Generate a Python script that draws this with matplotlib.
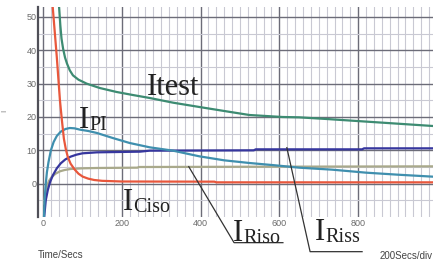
"""
Insulation-test current traces (Itest, I_PI, I_Ciso, I_Riso, I_Riss)
redrawn as a scope-style grid chart.
"""

import matplotlib
matplotlib.use("Agg")
import matplotlib.pyplot as plt
from matplotlib import font_manager
from matplotlib.ticker import FixedLocator

# --- data ----------------------------------------------------------------
itest_x = [38, 41, 44, 47, 51, 56, 61, 68, 76, 90, 111, 144, 187, 228, 271,
           330, 397, 460, 524, 608, 650, 720, 797, 900, 990]
itest_y = [58, 52.7, 47.5, 43.5, 40.5, 37.8, 36, 34, 32.5, 31.2, 30, 28.7,
           27.5, 26.6, 25.7, 24.3, 23, 21.8, 20.6, 20, 19.9, 19.4, 18.8, 18,
           17.3]

ipi_x = [2.5, 4, 7, 10, 14, 20, 27, 35, 45, 57, 68, 80, 94, 115, 137, 177,
         220, 271, 330, 397, 460, 524, 590, 650, 734, 820, 900, 990]
ipi_y = [-10, -5, 0, 3.5, 6.5, 10, 12.5, 14.3, 15.6, 16.4, 16.7, 16.6, 16.2,
         15.8, 15.2, 13.7, 12.2, 10.9, 9.9, 8.2, 7, 6.2, 5.5, 4.8, 4.2, 3.3,
         2.7, 2.1]

iriss_x = [3, 7, 12, 18, 25, 35, 45, 57, 70, 85, 100, 137, 246, 271, 535,
           540, 810, 815, 990]
iriss_y = [-10, -5, -2, 0.5, 2.5, 4.6, 6.1, 7.3, 8.1, 8.7, 9.1, 9.4, 9.6,
           9.9, 10.0, 10.3, 10.3, 10.6, 10.6]

iriso_x = [3, 6, 10, 15, 22, 32, 43, 55, 70, 100, 137, 240, 243, 990]
iriso_y = [-6, -3, -0.8, 0.8, 2, 3, 3.7, 4.1, 4.4, 4.6, 4.7, 4.8, 5.0, 5.2]

iciso_x = [20, 25, 35, 43, 48, 53, 58, 63, 70, 80, 90, 101, 115, 130, 150,
           200, 435, 440, 990]
iciso_y = [60, 52.5, 38, 25, 19, 13.5, 10.3, 8, 6, 4.3, 3, 2.1, 1.5, 1.1,
           0.85, 0.65, 0.6, 0.4, 0.4]

x_ticks = [0, 200, 400, 600, 800]
y_ticks = [0, 10, 20, 30, 40, 50]

# leader lines for the two lower labels
riso_lead_x = [370, 485, 609]
riso_lead_y = [5.1, -17.7, -17.7]
riss_lead_x = [619, 678, 810]
riss_lead_y = [10.8, -20.4, -20.4]

W, H = 443, 262


def narrow_font():
    names = {f.name for f in font_manager.fontManager.ttflist}
    for n in ["Liberation Sans Narrow", "Arial Narrow", "Liberation Sans"]:
        if n in names:
            return n
    return "DejaVu Sans"


def fx(x):
    return x / W


def fy(y):
    return 1 - y / H


def main():
    sans = narrow_font()
    serif = "Liberation Serif"

    fig = plt.figure(figsize=(W / 100, H / 100), dpi=100)
    fig.patch.set_facecolor("white")
    ax = fig.add_axes([fx(38), fy(217), (433 - 38) / W, (217 - 7) / H])
    ax.set_xlim(-12.7, 990)
    ax.set_ylim(-10, 53)

    ax.xaxis.set_major_locator(FixedLocator(x_ticks))
    ax.yaxis.set_major_locator(FixedLocator(y_ticks))
    ax.xaxis.set_minor_locator(FixedLocator(
        [v for v in range(20, 1000, 20) if v % 200]))
    ax.yaxis.set_minor_locator(FixedLocator([-5, 5, 15, 25, 35, 45]))
    ax.grid(which="major", color="#6c6c78", lw=1.0)
    ax.grid(which="minor", color="#c9c9d3", lw=0.8)
    ax.set_axisbelow(True)

    for s in ["top", "right", "bottom"]:
        ax.spines[s].set_visible(False)
    ax.spines["left"].set_color("#505058")
    ax.spines["left"].set_linewidth(1.6)

    ax.tick_params(which="both", length=0, labelsize=6.5, labelcolor="#6a6a6a")
    ax.tick_params(axis="x", pad=1.5)
    ax.tick_params(axis="y", pad=1)
    for lab in ax.get_xticklabels() + ax.get_yticklabels():
        lab.set_fontfamily(sans)

    lw = 1.6
    ax.plot(iriso_x, iriso_y, color="#a9a98b", lw=lw)
    ax.plot(iriss_x, iriss_y, color="#36369e", lw=lw)
    ax.plot(ipi_x, ipi_y, color="#3f8fae", lw=lw)
    ax.plot(iciso_x, iciso_y, color="#e8573c", lw=lw)
    ax.plot(itest_x, itest_y, color="#3d8b72", lw=lw)

    ax.plot(riso_lead_x, riso_lead_y, color="#333333", lw=0.9, clip_on=False)
    ax.plot(riss_lead_x, riss_lead_y, color="#333333", lw=0.9, clip_on=False)

    tc = "#222222"
    big, small = 22, 14.5

    def label(x, base, main_txt, sub_txt=None, sub_dx=10, sub_dy=2):
        fig.text(fx(x), fy(base), main_txt, fontsize=big, family=serif,
                 color=tc, va="baseline", ha="left")
        if sub_txt:
            fig.text(fx(x + sub_dx), fy(base + sub_dy), sub_txt,
                     fontsize=small, family=serif, color=tc,
                     va="baseline", ha="left")

    label(147, 95, "Itest")
    label(79, 128, "I", "PI")
    label(123, 210, "I", "Ciso")
    label(233, 241, "I", "Riso", sub_dy=2)
    label(315, 240, "I", "Riss", sub_dy=2)

    fig.text(fx(38), fy(255), "Time/Secs", fontsize=7, family=sans,
             color="#444444", va="center", ha="left")
    fig.text(fx(433), fy(256), "200Secs/div", fontsize=7, family=sans,
             color="#444444", va="center", ha="right")
    fig.text(fx(1), fy(111), "I", fontsize=6, family=sans, color="#888888",
             va="center", ha="left", rotation=90)

    fig.savefig("out.png", dpi=100, facecolor=fig.get_facecolor())
    plt.close(fig)


if __name__ == "__main__":
    main()
